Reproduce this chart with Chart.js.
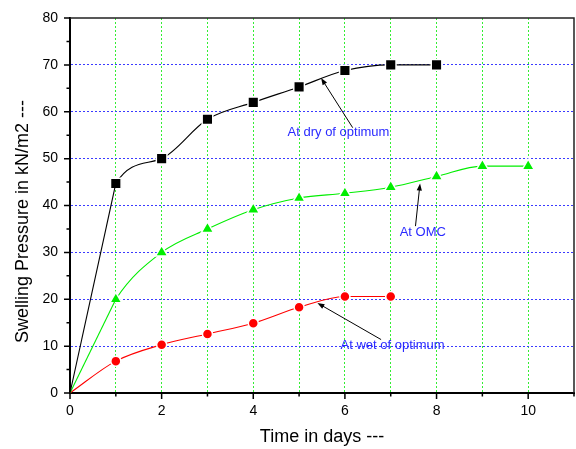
<!DOCTYPE html>
<html>
<head>
<meta charset="utf-8">
<script src="https://cdn.jsdelivr.net/npm/chart.js@4/dist/chart.umd.min.js"></script>
<style>
html,body{margin:0;padding:0;background:#fff}
canvas{display:block}
</style>
</head>
<body>
<canvas id="c" width="576" height="449"></canvas>
<script>
// ---------- data ----------
const DAYS = [0,1,2,3,4,5,6,7,8,9,10];
const DRY  = [0,44.7,50,58.4,62,65.3,68.8,70,70];             // At dry of optimum
const OMC  = [0,20,30,35,39.1,41.6,42.6,43.9,46.2,48.4,48.4]; // At OMC
const WET  = [0,6.8,10.3,12.6,14.9,18.3,20.6,20.6];           // At wet of optimum

const X_MAX = 11, Y_MAX = 80;
const X_LABELS = [0,2,4,6,8,10];
const Y_LABELS = [0,10,20,30,40,50,60,70,80];
const X_TITLE = "Time in days ---";
const Y_TITLE = "Swelling Pressure in kN/m2 ---";

// notes: text centre, arrow tail, arrow head (data units)
const NOTES = [
  {text:"At dry of optimum", at:[5.86,55.6], from:[6.17,56.6], to:[5.48,67.2]},
  {text:"At OMC",            at:[7.70,34.3], from:[7.54,35.6], to:[7.64,44.7]},
  {text:"At wet of optimum", at:[7.04,10.2], from:[6.79,11.4], to:[5.40,19.2]}
];

const FONT = "'Liberation Sans', Arial, sans-serif";
const RIGHT_GAP = 2;
const pts = ys => ys.map((y,i)=>({x:DAYS[i],y}));
const radii = (ys,r) => ys.map((_,i)=> i===0 ? 0 : r);
const noPad = s => { s.paddingLeft=0; s.paddingRight=0; s.paddingTop=0; s.paddingBottom=0; };

// ---------- plugins ----------
// chart.js keeps a few px spare on the right; stretch the plot area to the edge
const fitRight = {
  id:"fitRight",
  afterLayout(chart){
    const a = chart.chartArea, x = chart.scales.x;
    const r = chart.width - RIGHT_GAP;
    if(a.right >= r) return;
    a.right = r; a.width = r - a.left;
    x.right = r; x.width = r - x.left;
    if(typeof x.configure === "function") x.configure();
  }
};

const frame = {
  id:"frame",
  beforeDatasetsDraw(chart){
    const {ctx, chartArea:a} = chart;
    ctx.save();
    ctx.strokeStyle = "#222"; ctx.lineWidth = 1.5;
    ctx.beginPath();
    ctx.moveTo(a.left, a.top); ctx.lineTo(a.right, a.top); ctx.lineTo(a.right, a.bottom);
    ctx.stroke();
    ctx.restore();
  },
  afterDraw(chart){
    const {ctx, chartArea:a, scales:{x,y}} = chart;
    ctx.save();
    ctx.strokeStyle = "#000"; ctx.lineWidth = 1.5;
    ctx.beginPath();
    for(let v=0; v<=X_MAX; v++){
      const px = x.getPixelForValue(v), len = v%2===0 ? 6 : 3.5;
      ctx.moveTo(px, a.bottom); ctx.lineTo(px, a.bottom+len);
    }
    for(let v=0; v<=Y_MAX; v+=5){
      const py = y.getPixelForValue(v), len = v%10===0 ? 6 : 3.5;
      ctx.moveTo(a.left, py); ctx.lineTo(a.left-len, py);
    }
    ctx.stroke();
    // y axis title (sits a bit below the middle, as in the original)
    ctx.translate(a.left-47, (a.top+a.bottom)/2+16);
    ctx.rotate(-Math.PI/2);
    ctx.font = "18px "+FONT; ctx.fillStyle="#000";
    ctx.textAlign="center"; ctx.textBaseline="middle";
    ctx.fillText(Y_TITLE, 0, 0);
    ctx.restore();
  }
};

const notes = {
  id:"notes",
  afterDatasetsDraw(chart){
    const {ctx, scales:{x,y}} = chart;
    ctx.save();
    NOTES.forEach(n=>{
      const x1=x.getPixelForValue(n.from[0]), y1=y.getPixelForValue(n.from[1]);
      const x2=x.getPixelForValue(n.to[0]),   y2=y.getPixelForValue(n.to[1]);
      const ang=Math.atan2(y2-y1,x2-x1), h=7, w=2.6;
      ctx.strokeStyle="#000"; ctx.fillStyle="#000"; ctx.lineWidth=1;
      ctx.beginPath(); ctx.moveTo(x1,y1);
      ctx.lineTo(x2-Math.cos(ang)*h*0.8, y2-Math.sin(ang)*h*0.8); ctx.stroke();
      ctx.beginPath(); ctx.moveTo(x2,y2);
      ctx.lineTo(x2-Math.cos(ang)*h-Math.sin(ang)*w, y2-Math.sin(ang)*h+Math.cos(ang)*w);
      ctx.lineTo(x2-Math.cos(ang)*h+Math.sin(ang)*w, y2-Math.sin(ang)*h-Math.cos(ang)*w);
      ctx.closePath(); ctx.fill();
      ctx.font = "13px "+FONT; ctx.fillStyle="#2a2aff";
      ctx.textAlign="center"; ctx.textBaseline="middle";
      ctx.fillText(n.text, x.getPixelForValue(n.at[0]), y.getPixelForValue(n.at[1]));
    });
    ctx.restore();
  }
};

// ---------- chart ----------
// curved series; if straightStart, the first segment is hidden and drawn by a straight helper
const ds = (data,color,style,r,straightStart) => ({
  data:pts(data), borderColor:color, backgroundColor:color, borderWidth:1.1,
  pointStyle:style, pointRadius:radii(data,r), pointHoverRadius:radii(data,r),
  pointBackgroundColor:color, pointBorderColor:"#fff", pointBorderWidth:1.5,
  cubicInterpolationMode:"monotone", fill:false, clip:false,
  segment: straightStart ? {borderColor:c=> c.p0DataIndex===0 ? "rgba(0,0,0,0)" : color} : {}
});
const firstLeg = (data,color) => ({
  data:pts(data.slice(0,2)), borderColor:color, borderWidth:1.1, tension:0,
  pointRadius:0, fill:false
});

new Chart(document.getElementById("c"),{
  type:"line",
  data:{datasets:[
    firstLeg(DRY,"#000000"),
    firstLeg(OMC,"#00ee00"),
    ds(DRY,"#000000","rect",7.5,true),
    ds(OMC,"#00ee00","triangle",7,true),
    ds(WET,"#ff0000","circle",5,false)
  ]},
  options:{
    responsive:false, animation:false, events:[],
    layout:{padding:{top:18,right:RIGHT_GAP,left:0,bottom:0}},
    plugins:{legend:{display:false},tooltip:{enabled:false}},
    scales:{
      x:{
        type:"linear", min:0, max:X_MAX,
        afterFit:s=>{s.height=56; noPad(s);},
        border:{display:true,color:"#000",width:2,dash:[2,2]},
        grid:{
          color:c=> (c.tick && c.tick.value>=1 && c.tick.value<=10) ? "#33ee33" : "rgba(0,0,0,0)",
          lineWidth:1, drawTicks:true, tickLength:6, tickColor:"rgba(0,0,0,0)"
        },
        ticks:{stepSize:1, autoSkip:false, maxRotation:0, padding:4, color:"#000",
          font:{family:FONT,size:14},
          callback:v=> X_LABELS.includes(v) ? String(v) : ""},
        title:{display:true, text:X_TITLE, color:"#000",
          font:{family:FONT,size:18}, padding:{top:0,bottom:1}}
      },
      y:{
        type:"linear", min:0, max:Y_MAX,
        afterFit:s=>{s.width=70; noPad(s);},
        border:{display:true,color:"#000",width:2,dash:[2,2]},
        grid:{
          color:c=> (c.tick && c.tick.value%10===0 && c.tick.value>0 && c.tick.value<Y_MAX) ? "#3a3aff" : "rgba(0,0,0,0)",
          lineWidth:1, drawTicks:true, tickLength:12, tickColor:"rgba(0,0,0,0)"
        },
        ticks:{stepSize:5, autoSkip:false, padding:0, color:"#000",
          font:{family:FONT,size:14},
          callback:v=> Y_LABELS.includes(v) ? String(v) : ""}
      }
    }
  },
  plugins:[fitRight,frame,notes]
});
</script>
</body>
</html>
